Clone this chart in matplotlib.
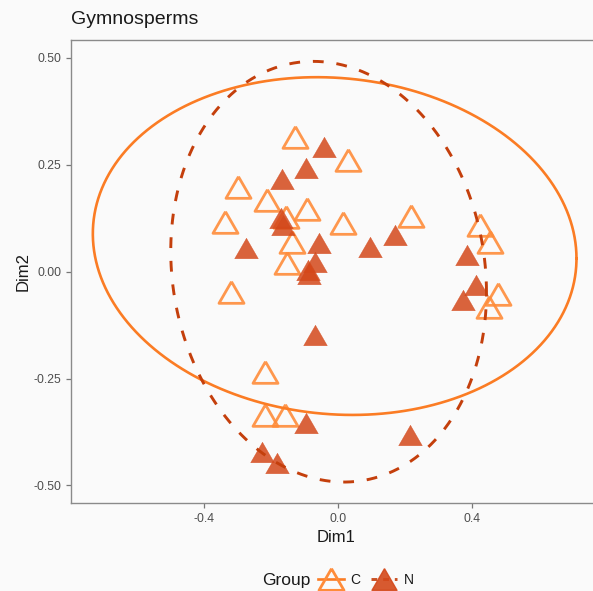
import numpy as np
import matplotlib
matplotlib.use("Agg")
import matplotlib.pyplot as plt
from matplotlib.lines import Line2D

plt.rcParams['font.family'] = ['Liberation Sans', 'DejaVu Sans']

# ---- data ----
c_dim1 = [-0.128, 0.031, -0.298, -0.212, -0.091, -0.155, -0.336, 0.014, -0.138, -0.151,
          -0.319, 0.217, 0.422, 0.452, 0.477, 0.450, -0.217, -0.217, -0.158]
c_dim2 = [0.316, 0.261, 0.199, 0.168, 0.146, 0.129, 0.117, 0.115, 0.070, 0.020,
          -0.047, 0.131, 0.109, 0.070, -0.051, -0.082, -0.234, -0.335, -0.335]
n_dim1 = [-0.042, -0.095, -0.166, -0.170, -0.165, -0.274, -0.057, -0.068, -0.088, -0.085,
          0.095, 0.170, 0.383, 0.412, 0.373, -0.095, -0.227, -0.182, 0.214, -0.068]
n_dim2 = [0.291, 0.242, 0.216, 0.125, 0.110, 0.055, 0.066, 0.023, 0.005, -0.005,
          0.058, 0.086, 0.039, -0.031, -0.066, -0.354, -0.421, -0.448, -0.382, -0.148]

# ellipse summaries: center x, center y, half-width, half-height, phase (deg)
ell_c = [-0.010, 0.060, 0.720, 0.395, 94.2]
ell_n = [-0.028, 0.000, 0.470, 0.492, 95.6]

x_ticks = [-0.4, 0.0, 0.4]
x_tick_labels = ['-0.4', '0.0', '0.4']
y_ticks = [-0.50, -0.25, 0.00, 0.25, 0.50]
y_tick_labels = ['-0.50', '-0.25', '0.00', '0.25', '0.50']

# ---- style ----
bg = '#FAFAFA'
col_c_pt = '#FF8C3A'
col_n_pt = '#D4481A'
col_c_ell = '#FB7C24'
col_n_ell = '#C43F0C'

tri = [(0, 0.433), (-0.5, -0.433), (0.5, -0.433), (0, 0.433)]

fig = plt.figure(figsize=(5.93, 5.91), dpi=100, facecolor=bg)
ax = fig.add_axes([71/593, 88/591, (601-71)/593, (503-40)/591], facecolor=bg)

ax.plot(c_dim1, c_dim2, linestyle='none', marker=tri, markersize=18,
        markerfacecolor='none', markeredgecolor=col_c_pt, markeredgewidth=2.0, alpha=0.9, zorder=2)
ax.plot(n_dim1, n_dim2, linestyle='none', marker=tri, markersize=17,
        markerfacecolor=col_n_pt, markeredgecolor=col_n_pt, markeredgewidth=0.3, alpha=0.85, zorder=3)

t = np.linspace(0, 2*np.pi, 400)
def ell(p):
    cx, cy, w, h, ph = p
    return cx + w*np.cos(t), cy + h*np.cos(t - np.deg2rad(ph))

ex, ey = ell(ell_c)
ax.plot(ex, ey, color=col_c_ell, lw=1.9, zorder=4)
ex, ey = ell(ell_n)
ax.plot(ex, ey, color=col_n_ell, lw=2.1, linestyle=(0, (3.7, 4.4)), zorder=4)

ax.set_xlim(-0.795, 0.783)
ax.set_ylim(-0.541, 0.542)
ax.set_xticks(x_ticks)
ax.set_xticklabels(x_tick_labels)
ax.set_yticks(y_ticks)
ax.set_yticklabels(y_tick_labels)
ax.tick_params(colors='#777777', labelcolor='#4D4D4D', labelsize=8.8, length=3.5, width=0.9)
for s in ax.spines.values():
    s.set_color('#8A8A8A')
    s.set_linewidth(1.0)

ax.set_xlabel('Dim1', fontsize=12, color='#1A1A1A', labelpad=4)
ax.set_ylabel('Dim2', fontsize=12, color='#1A1A1A', labelpad=2)
fig.text(71/593, 1 - 19/591, 'Gymnosperms', fontsize=14, color='#1A1A1A', va='center', ha='left')

# legend
fig.text(262/593, 1 - 580/591, 'Group', fontsize=12.5, color='#1A1A1A', va='center', ha='left')
h_c = Line2D([], [], color=col_c_ell, lw=1.9, marker=tri, markersize=18,
             markerfacecolor='none', markeredgecolor=col_c_pt, markeredgewidth=2.0)
h_n = Line2D([], [], color=col_n_ell, lw=2.1, linestyle=(0, (2.0, 2.0)), marker=tri, markersize=18,
             markerfacecolor=col_n_pt, markeredgecolor=col_n_pt, alpha=0.9)
leg = fig.legend([h_c, h_n], ['C', 'N'], ncol=2, loc='center left',
                 bbox_to_anchor=(318/593, 1 - 580/591), frameon=False, fontsize=10,
                 handlelength=1.9, handletextpad=0.45, columnspacing=0.75, numpoints=1,
                 borderaxespad=0, borderpad=0)
for tx in leg.get_texts():
    tx.set_color('#1A1A1A')

fig.savefig('out.png', dpi=100, facecolor=bg)
